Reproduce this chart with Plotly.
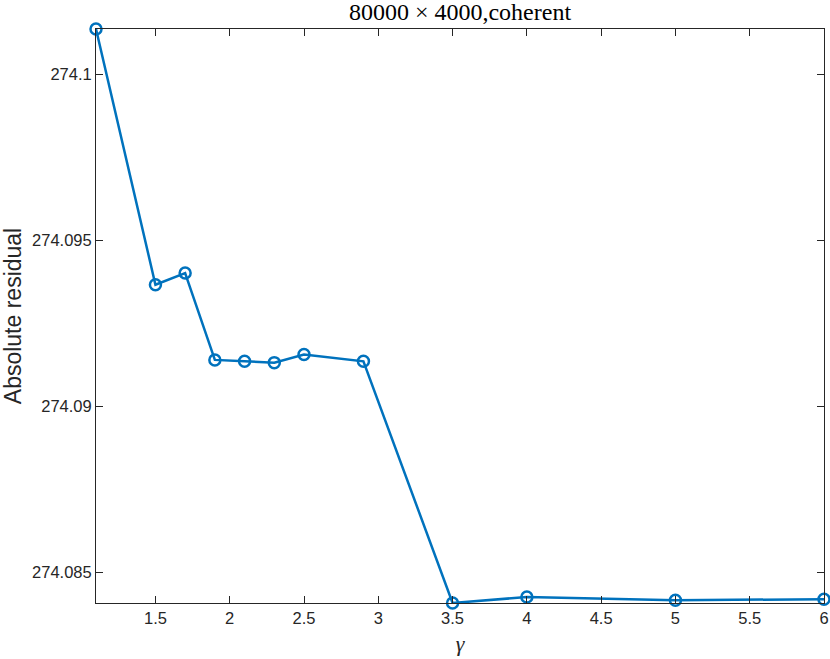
import plotly.graph_objects as go

gamma = [1.1, 1.5, 1.7, 1.9, 2.1, 2.3, 2.5, 2.9, 3.5, 4, 5, 6]
residual = [274.101369, 274.093667, 274.094019, 274.091402, 274.091360, 274.091320,
            274.091562, 274.091360, 274.084080, 274.084260, 274.084164, 274.084194]
xticks = [1.5, 2, 2.5, 3, 3.5, 4, 4.5, 5, 5.5, 6]
yticks = [274.085, 274.09, 274.095, 274.1]
ytick_labels = ["274.085", "274.09", "274.095", "274.1"]

fig = go.Figure()
fig.add_trace(go.Scatter(
    x=gamma, y=residual, mode="lines+markers",
    line=dict(color="#0072BD", width=2.5),
    marker=dict(symbol="circle-open", size=11, color="#0072BD", line=dict(width=2.5, color="#0072BD")),
    cliponaxis=False, showlegend=False))

axis_common = dict(showgrid=False, zeroline=False, showline=True, linecolor="#262626", linewidth=1,
                   ticks="inside", ticklen=7, tickcolor="#262626", mirror="ticks", automargin=False,
                   tickfont=dict(family="Liberation Sans, Arial, sans-serif", size=16.5, color="#262626"))

fig.update_layout(
    width=830, height=659,
    margin=dict(l=96, r=6, t=29, b=56),
    paper_bgcolor="white", plot_bgcolor="white",
    title=dict(text="80000 × 4000,coherent", x=0.5, xref="paper", xanchor="center", y=0.982, yanchor="middle",
               font=dict(family="Liberation Serif, Times New Roman, serif", size=24, color="black")),
    xaxis=dict(range=[1.1, 6.00001], tickvals=xticks, ticktext=[str(v) for v in xticks],
               title=dict(text="<i>γ</i>", standoff=9,
                          font=dict(family="Liberation Serif, serif", size=22, color="#262626")),
               **axis_common),
    yaxis=dict(range=[274.08408, 274.101369], tickvals=yticks, ticktext=ytick_labels,
               title=dict(text="Absolute residual", standoff=4,
                          font=dict(family="Liberation Sans, Arial, sans-serif", size=23, color="#262626")),
               **axis_common),
)

fig.write_html("out.html", config={"displayModeBar": False})
with open("out.html", "r", encoding="utf-8") as f:
    html = f.read()
html = html.replace("<head>", "<head><style>html,body{margin:0;padding:0;overflow:hidden;}</style>", 1)
with open("out.html", "w", encoding="utf-8") as f:
    f.write(html)
